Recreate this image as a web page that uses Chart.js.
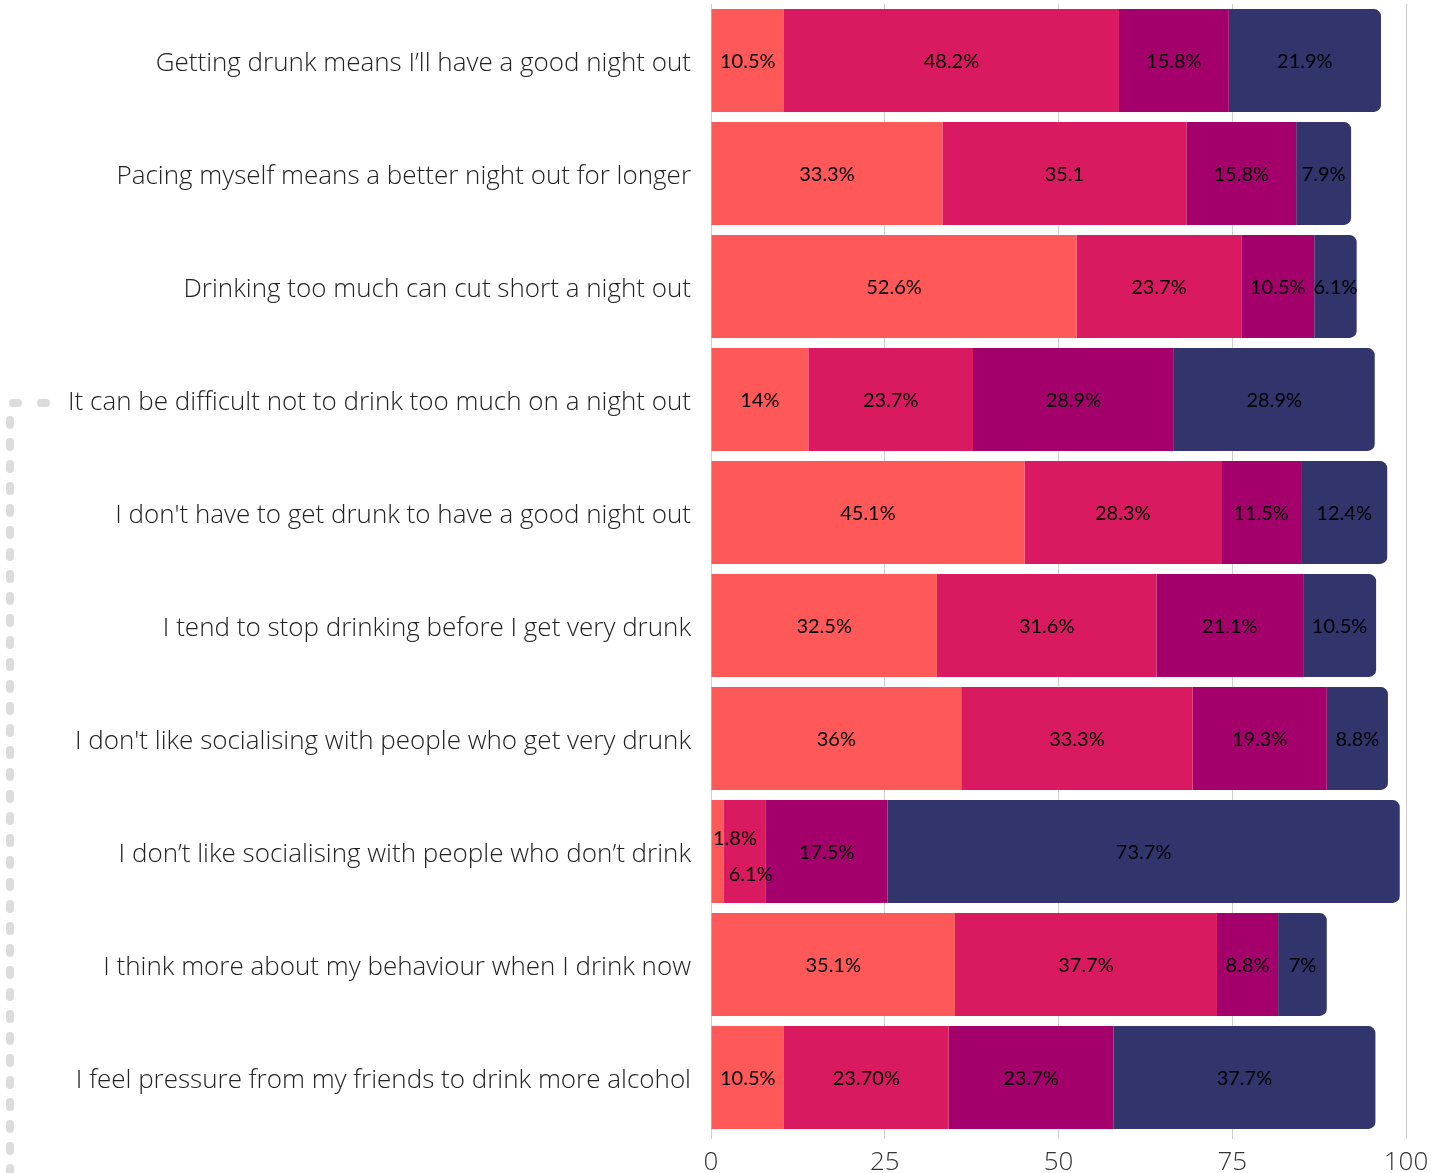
<!DOCTYPE html>
<html>
<head>
<meta charset="utf-8">
<script src="https://cdn.jsdelivr.net/npm/chart.js@4"></script>
<style>
  html, body { margin: 0; padding: 0; background: #fff; }
  #wrap { width: 1447px; height: 1173px; position: relative; }
</style>
</head>
<body>
<div id="wrap"><canvas id="chart"></canvas></div>
<script>
const categories = [
    'Getting drunk means I\u2019ll have a good night out',
    'Pacing myself means a better night out for longer',
    'Drinking too much can cut short a night out',
    'It can be difficult not to drink too much on a night out',
    'I don\'t have to get drunk to have a good night out',
    'I tend to stop drinking before I get very drunk',
    'I don\'t like socialising with people who get very drunk',
    'I don\u2019t like socialising with people who don\u2019t drink',
    'I think more about my behaviour when I drink now',
    'I feel pressure from my friends to drink more alcohol'
]

const band1 = [10.5, 33.3, 52.6, 14, 45.1, 32.5, 36, 1.8, 35.1, 10.5]
const band2 = [48.2, 35.1, 23.7, 23.7, 28.3, 31.6, 33.3, 6.1, 37.7, 23.7]
const band3 = [15.8, 15.8, 10.5, 28.9, 11.5, 21.1, 19.3, 17.5, 8.8, 23.7]
const band4 = [21.9, 7.9, 6.1, 28.9, 12.4, 10.5, 8.8, 73.7, 7, 37.7]

const band1Labels = ['10.5%', '33.3%', '52.6%', '14%', '45.1%', '32.5%', '36%', '1.8%', '35.1%', '10.5%']
const band2Labels = ['48.2%', '35.1', '23.7%', '23.7%', '28.3%', '31.6%', '33.3%', '6.1%', '37.7%', '23.70%']
const band3Labels = ['15.8%', '15.8%', '10.5%', '28.9%', '11.5%', '21.1%', '19.3%', '17.5%', '8.8%', '23.7%']
const band4Labels = ['21.9%', '7.9%', '6.1%', '28.9%', '12.4%', '10.5%', '8.8%', '73.7%', '7%', '37.7%']

const xTicks = [0, 25, 50, 75, 100]

const colours = ['#FF5858', '#D91A60', '#A4006B', '#31356C']
const labelFont = "20px Lato, 'Open Sans', sans-serif"

// dashed decoration down the left edge
const dashedEdge = {
    id: 'dashedEdge',
    beforeDraw(chart) {
        const ctx = chart.ctx
        ctx.save()
        ctx.strokeStyle = '#dcdcdc'
        ctx.lineWidth = 8
        ctx.lineCap = 'round'
        ctx.setLineDash([5, 23])
        ctx.beginPath()
        ctx.moveTo(13, 403)
        ctx.lineTo(50, 403)
        ctx.stroke()
        ctx.setLineDash([5, 17])
        ctx.beginPath()
        ctx.moveTo(10, 420)
        ctx.lineTo(10, 1180)
        ctx.stroke()
        ctx.restore()
    }
}

// percentage text inside each segment
const segmentLabels = {
    id: 'segmentLabels',
    afterDatasetsDraw(chart) {
        const ctx = chart.ctx
        const area = chart.chartArea
        ctx.save()
        ctx.font = labelFont
        ctx.fillStyle = '#000'
        ctx.textAlign = 'center'
        ctx.textBaseline = 'middle'
        const shifted = {}
        chart.data.datasets.forEach((ds, di) => {
            const meta = chart.getDatasetMeta(di)
            meta.data.forEach((bar, i) => {
                const text = ds.texts[i]
                const w = ctx.measureText(text).width
                const segW = Math.abs(bar.x - bar.base)
                let cx = (bar.x + bar.base) / 2
                let cy = bar.y
                if (segW < w * 0.5) {
                    cy -= 14
                    shifted[i] = di
                } else if (shifted[i] === di - 1) {
                    cy += 22
                    cx += 6
                }
                cx = Math.max(cx, area.left + w / 2 + 2)
                ctx.fillText(text, cx, cy + 1)
            })
        })
        ctx.restore()
    }
}

const bandData = [band1, band2, band3, band4]
const bandLabels = [band1Labels, band2Labels, band3Labels, band4Labels]

const datasets = bandData.map((values, i) => ({
    label: 'Band ' + (i + 1),
    data: values,
    texts: bandLabels[i],
    backgroundColor: colours[i],
    borderWidth: 0,
    borderRadius: i === 3 ? 7 : 0,
    borderSkipped: 'start',
    barPercentage: 0.91,
    categoryPercentage: 1
}))

const config = {
    type: 'bar',
    data: { labels: categories, datasets: datasets },
    options: {
        indexAxis: 'y',
        responsive: false,
        animation: false,
        layout: { padding: { top: 4, right: 41, bottom: 0, left: 0 } },
        plugins: {
            legend: { display: false },
            tooltip: { enabled: false }
        },
        scales: {
            x: {
                stacked: true,
                min: 0,
                max: 100,
                afterBuildTicks(scale) {
                    scale.ticks = xTicks.map(v => ({ value: v }))
                },
                afterFit(scale) {
                    scale.height = 39
                    scale.paddingLeft = 0
                    scale.paddingRight = 0
                },
                border: { display: false },
                grid: { color: '#cfcfcf', lineWidth: 1, drawTicks: true, tickLength: 5 },
                ticks: {
                    padding: 8,
                    color: '#333',
                    font: { family: "'Open Sans'", size: 26, weight: 300 }
                }
            },
            y: {
                stacked: true,
                afterFit(scale) {
                    scale.width = 711
                    scale.paddingTop = 0
                    scale.paddingBottom = 0
                },
                border: { display: false },
                grid: { display: false, drawTicks: false },
                ticks: {
                    padding: 20,
                    labelOffset: 3,
                    color: '#222',
                    font: { family: "'Open Sans'", size: 26, weight: 300 }
                }
            }
        }
    },
    plugins: [dashedEdge, segmentLabels]
}

const canvas = document.getElementById('chart')
canvas.width = 1447
canvas.height = 1173
new Chart(canvas, config)
</script>
</body>
</html>
